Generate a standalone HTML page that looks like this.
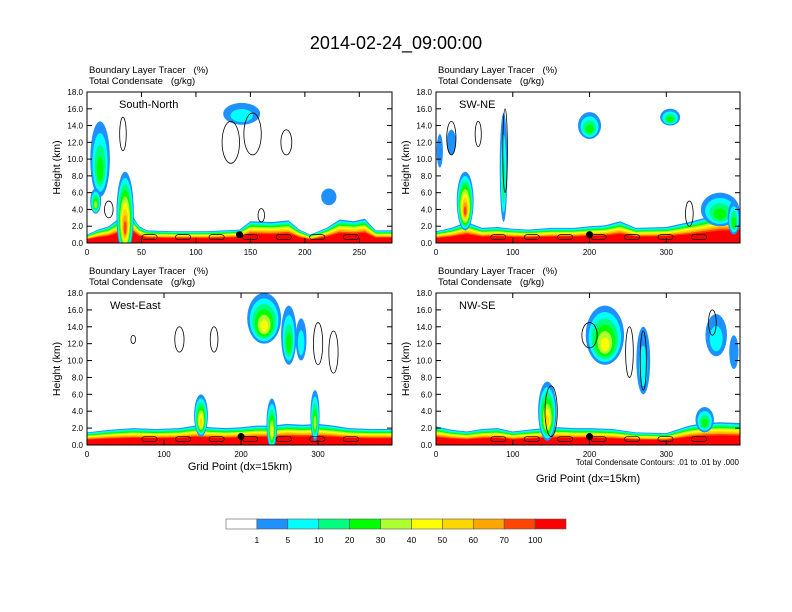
<!DOCTYPE html>
<html><head><meta charset="utf-8">
<style>
html,body{margin:0;padding:0;background:#fff;}
svg{display:block;font-family:"Liberation Sans",sans-serif;}
</style></head>
<body>
<svg id="fig" width="792" height="612" viewBox="0 0 792 612" xmlns="http://www.w3.org/2000/svg">
<text x="396" y="49" font-size="18" text-anchor="middle">2014-02-24_09:00:00</text>
<g id="panels"></g>
<g id="cbar"></g>
</svg>
<script>
// colour scale
const levelLabels = ["1","5","10","20","30","40","50","60","70","100"];
const levelColors = ["#ffffff","#1e90ff","#00ffff","#00ff7f","#00ff00","#adff2f","#ffff00","#ffd700","#ffa500","#ff4500","#ff0000"];
const yTicks = [0,2,4,6,8,10,12,14,16,18];

// panel definitions
const panelNames = ["South-North","SW-NE","West-East","NW-SE"];
const panelXMax = [280,396,396,396];
const panelXTicks = [[0,50,100,150,200,250],[0,100,200,300],[0,100,200,300],[0,100,200,300]];
// boundary-layer band top heights (km) at grid points
const bandX = [
 [0,10,20,28,33,38,42,48,55,80,110,140,150,170,185,195,205,220,232,245,255,265,280],
 [0,20,40,60,80,100,120,150,180,200,220,240,260,300,330,350,370,396],
 [0,30,60,90,120,140,160,180,200,220,240,260,280,300,320,340,370,396],
 [0,20,40,60,80,100,120,140,160,180,200,230,260,300,330,350,370,396]];
const bandTop = [
 [1.0,1.6,2.0,2.8,3.5,4.0,3.2,2.0,1.5,1.4,1.4,1.6,2.6,2.5,2.7,1.6,1.0,1.8,2.8,2.6,2.9,1.5,1.5],
 [1.4,1.8,2.5,1.8,1.9,1.7,1.6,1.8,1.8,2.0,2.1,2.6,1.8,1.9,2.5,3.0,3.5,3.6],
 [1.5,1.8,2.0,1.9,2.0,2.3,2.1,2.0,2.1,2.3,2.3,2.5,2.4,2.5,2.3,2.0,1.9,1.9],
 [2.2,1.8,1.6,1.9,2.0,1.6,1.8,2.0,2.1,2.0,2.0,1.9,1.5,1.4,2.3,2.6,2.7,2.6]];
// blobs: panel, centre x, centre y(km), half width, half height, max level
const blobPanel = [0,0,0,0,0,1,1,1,1,1,1,1,1,2,2,2,2,2,2,3,3,3,3,3,3];
const blobX =     [12,35,142,222,8, 38,88,5,200,305,370,20,388,148,230,262,296,240,278,145,220,270,365,388,350];
const blobY =     [10,3.5,15.4,5.5,5,5,9,11,14,15,4,12,3,3.5,15,13,3.5,2.5,12.5,4,13,10,13,11,3];
const blobRX =    [9,8,17,7,5,11,5,4,15,13,25,6,8,9,22,10,6,7,7,12,25,9,14,6,12];
const blobRY =    [4.5,5,1.3,1,1.5,3.5,6.5,2,1.6,1,2,1.5,2,2.5,3,3.5,3,3,2.5,3.5,3.5,4,2.5,2,1.5];
const blobLvl =   [4,9,2,1,5,9,3,1,4,4,4,1,4,7,6,4,5,6,2,7,6,2,2,1,4];
// black contour outlines: panel, cx, cy, rx, ry
const ctrPanel = [0,0,0,0,0,0,1,1,1,1,2,2,2,2,2,3,3,3,3,3];
const ctrX =     [33,132,152,183,20,160,20,55,90,330,60,120,165,300,320,150,200,252,270,360];
const ctrY =     [13,12,13,12,4,3.3,12.5,13,11,3.5,12.5,12.5,12.5,12,11,4,13,11,10,14.5];
const ctrRX =    [3,8,8,5,4,3,6,4,3,5,3,6,5,6,6,8,10,5,4,5];
const ctrRY =    [2,2.5,2.5,1.5,1,0.8,2,1.5,5,1.5,0.5,1.5,1.5,2.5,2.5,3,1.5,3,3.5,1.5];
const dotX = [140,200,200,200];
const dotY = [1.0,1.0,1.0,1.0];

const NS="http://www.w3.org/2000/svg";
function mk(tag,attrs,parent){const e=document.createElementNS(NS,tag);for(const k in attrs)e.setAttribute(k,attrs[k]);parent.appendChild(e);return e;}
const boxes=[[87,92,305,151],[436,92,304,151],[87,293,305,152],[436,293,304,152]];
const root=document.getElementById('panels');

panelNames.forEach((nm,p)=>{
  const [bx,by,bw,bh]=boxes[p];
  const g=mk('g',{},root);
  
  
  const sx=v=>bx+v/panelXMax[p]*bw, sy=v=>by+bh-v/18*bh;
  const clipId='c'+p;
  const cp=mk('clipPath',{id:clipId},g); mk('rect',{x:bx,y:by,width:bw,height:bh},cp);
  const plot=mk('g',{'clip-path':'url(#'+clipId+')'},g);
  for(let L=1;L<=10;L++){
    const frac=1-(L-1)/9*0.58;
    let d='M'+sx(bandX[p][0])+','+sy(0);
    bandX[p].forEach((x,i)=>{d+=' L'+sx(x)+','+sy(bandTop[p][i]*frac);});
    d+=' L'+sx(bandX[p][bandX[p].length-1])+','+sy(0)+' Z';
    const path=mk('path',{d:d,fill:levelColors[L]},plot);
    
    
  }
  blobPanel.forEach((bp,i)=>{
    if(bp!==p)return;
    const n=blobLvl[i];
    for(let L=1;L<=n;L++){
      const s=1-(L-1)/(n+0.5);
      const e=mk('ellipse',{cx:sx(blobX[i]),cy:sy(blobY[i]-(1-s)*blobRY[i]*0.4),rx:Math.abs(sx(blobRX[i]*s)-sx(0)),ry:Math.abs(sy(0)-sy(blobRY[i]*s)),fill:levelColors[L]},plot);
      
      
    }
  });
  ctrPanel.forEach((cpn,i)=>{
    if(cpn!==p)return;
    const e=mk('ellipse',{cx:sx(ctrX[i]),cy:sy(ctrY[i]),rx:Math.abs(sx(ctrRX[i])-sx(0)),ry:Math.abs(sy(0)-sy(ctrRY[i])),fill:'none',stroke:'#000','stroke-width':0.8},plot);
    
    
  });
  for(let x=panelXMax[p]*0.18;x<panelXMax[p]*0.95;x+=panelXMax[p]*0.11){
    const e=mk('rect',{x:sx(x),y:sy(1.0),width:sx(panelXMax[p]*0.05)-sx(0),height:sy(0.4)-sy(1.0),rx:3,fill:'none',stroke:'#000','stroke-width':0.7},plot);
    
    
  }
  const dot=mk('circle',{cx:sx(dotX[p]),cy:sy(dotY[p]),r:3.5,fill:'#000'},plot);
  
  
  const fr=mk('rect',{x:bx,y:by,width:bw,height:bh,fill:'none',stroke:'#000','stroke-width':1},g);
  
  
  yTicks.forEach(v=>{
    mk('line',{x1:bx,x2:bx+5,y1:sy(v),y2:sy(v),stroke:'#000'},g);
    mk('line',{x1:bx+bw,x2:bx+bw-5,y1:sy(v),y2:sy(v),stroke:'#000'},g);
    const t=mk('text',{x:bx-4,y:sy(v)+3,'font-size':8,'text-anchor':'end'},g);
    t.textContent=v.toFixed(1);
    
    
  });
  panelXTicks[p].forEach(v=>{
    mk('line',{x1:sx(v),x2:sx(v),y1:by+bh,y2:by+bh-5,stroke:'#000'},g);
    mk('line',{x1:sx(v),x2:sx(v),y1:by,y2:by+5,stroke:'#000'},g);
    const t=mk('text',{x:sx(v),y:by+bh+12,'font-size':8,'text-anchor':'middle'},g);
    t.textContent=v;
    
    
  });
  const yl=mk('text',{x:0,y:0,'font-size':10.5,'text-anchor':'middle',transform:'translate('+(bx-27)+','+(by+bh/2)+') rotate(-90)'},g);
  yl.textContent='Height (km)';
  
  
  const h1=mk('text',{x:bx+2,y:by-19,'font-size':9.5},g);
  h1.textContent='Boundary Layer Tracer \u00a0\u00a0(%)';
  
  
  const h2=mk('text',{x:bx+2,y:by-8,'font-size':9.5},g);
  h2.textContent='Total Condensate \u00a0\u00a0(g/kg)';
  
  
  const lb=mk('text',{x:bx+(p===0?32:23),y:by+16,'font-size':11},g);
  lb.textContent=nm;
  
  
});
let t=mk('text',{x:240,y:470,'font-size':11,'text-anchor':'middle'},root);
t.textContent='Grid Point (dx=15km)';


t=mk('text',{x:588,y:482,'font-size':11,'text-anchor':'middle'},root);
t.textContent='Grid Point (dx=15km)';


t=mk('text',{x:739,y:465,'font-size':8,'text-anchor':'end'},root);
t.textContent='Total Condensate Contours: .01 to .01 by .000';


const cb=document.getElementById('cbar');
const cx0=226,cw=340/levelColors.length;
levelColors.forEach((c,i)=>{
  const r=mk('rect',{x:cx0+i*cw,y:519,width:cw,height:10,fill:c,stroke:'#555','stroke-width':0.6},cb);
  
  
});
levelLabels.forEach((l,i)=>{
  const tt=mk('text',{x:cx0+(i+1)*cw,y:543,'font-size':8.5,'text-anchor':'middle'},cb);
  tt.textContent=l;
  
  
});
</script>
</body></html>
